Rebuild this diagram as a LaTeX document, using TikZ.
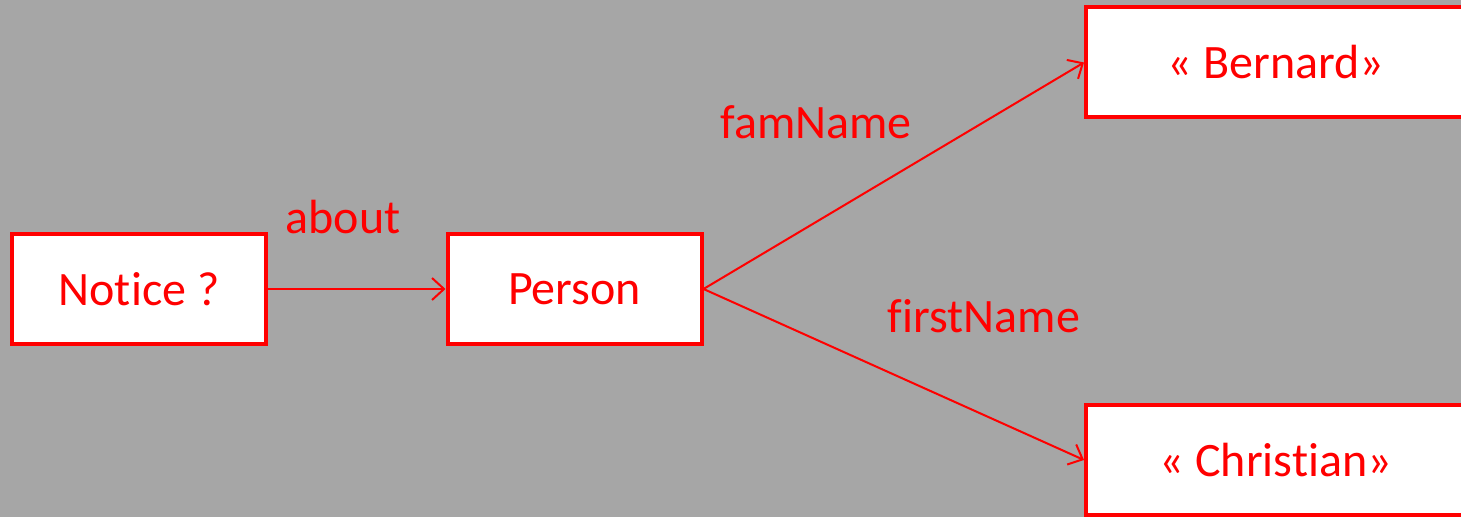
\documentclass[tikz,border=0pt]{standalone}
\usepackage{fontspec}
\setmainfont{Carlito}[Ligatures=NoCommon]
\usetikzlibrary{positioning, arrows.meta}
\definecolor{bggray}{HTML}{A6A6A6}
\tikzset{
  entity/.style={draw=red, fill=white, line width=2pt, text=red, font=\fontsize{24}{28}\selectfont,
    minimum width=127pt, minimum height=55pt, inner sep=0pt},
  link/.style={draw=red, line width=1pt, -{Straight Barb[length=6pt, width=11pt, line width=1pt]}},
  prop/.style={text=red, font=\fontsize{24}{28}\selectfont, inner sep=0pt}
}
\begin{document}
\begin{tikzpicture}[x=0.5pt, y=-0.5pt]
\fill [bggray] (0,0) rectangle (1461,517);
\clip (0,0) rectangle (1461,517);
\useasboundingbox (0,0) rectangle (1461,517);
% boxes
\node [entity] (notice) at (139,289) {Notice ?};
\node [entity] (person) at (574.5,289) {Person};
\node [entity, minimum width=225pt, anchor=west] (bernard) at (1084,62.5) {\hspace*{-35pt}« Bernard»};
\node [entity, minimum width=225pt, anchor=west] (christian) at (1084,460) {\hspace*{-35pt}« Christian»};
% links
\draw [link] (notice.east) -- (person.west);
\draw [link] (person.east) -- (bernard.west);
\draw [link] (person.east) -- (christian.west);
% property names
\node [prop] (about) at (343,217) {about};
\node [prop] (famname) at (816,122) {famName};
\node [prop] (firstname) at (984,316) {firstName};
\end{tikzpicture}
\end{document}
